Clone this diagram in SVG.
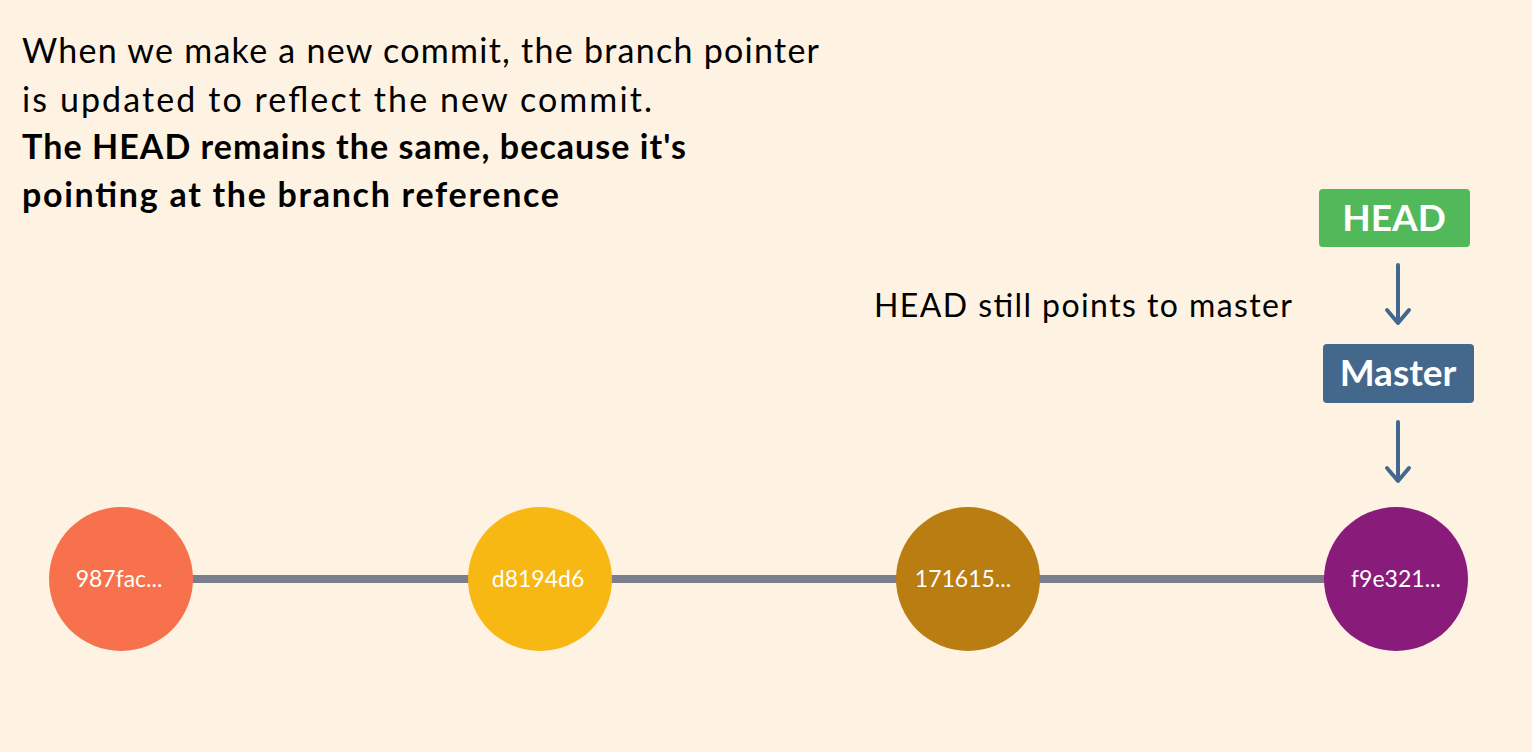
<svg xmlns="http://www.w3.org/2000/svg" width="1532" height="752" viewBox="0 0 1532 752">
<style>
.t{font-family:Lato,"Liberation Sans",sans-serif;fill:#000}
.lbl{font-family:Lato,"Liberation Sans",sans-serif;fill:#fff;font-size:23px;text-anchor:middle}
.box{font-family:Lato,"Liberation Sans",sans-serif;fill:#fff;font-size:37px;font-weight:bold;text-anchor:middle}
.arr{stroke:#43688F;stroke-width:4;fill:none;stroke-linecap:round;stroke-linejoin:round}
</style>
<rect width="1532" height="752" fill="#FEF3E2"/>
<g id="caption">
<text class="t" x="22" y="63" font-size="34" textLength="797">When we make a new commit, the branch pointer</text>
<text class="t" x="22" y="112" font-size="34" textLength="630">is updated to reflect the new commit.</text>
<text class="t" x="22" y="159" font-size="34" font-weight="bold" textLength="664">The HEAD remains the same, because it's</text>
<text class="t" x="22" y="207" font-size="34" font-weight="bold" textLength="537">pointing at the branch reference</text>
</g>
<g id="connectors">
<line x1="121" y1="579" x2="1396" y2="579" stroke="#7A7E8A" stroke-width="8"/>
<path class="arr" d="M1398 265 V323 M1387 310 L1398 323 L1409 310"/>
<path class="arr" d="M1398 422 V481 M1387 468 L1398 481 L1409 468"/>
</g>
<g id="c1"><circle cx="121" cy="579" r="72" fill="#F7724C"/><text class="lbl" x="119" y="587">987fac...</text></g>
<g id="c2"><circle cx="540" cy="579" r="72" fill="#F7B813"/><text class="lbl" x="538" y="587">d8194d6</text></g>
<g id="c3"><circle cx="968" cy="579" r="72" fill="#B97D12"/><text class="lbl" x="963" y="587">171615...</text></g>
<g id="c4"><circle cx="1396" cy="579" r="72" fill="#891B7B"/><text class="lbl" x="1396" y="587">f9e321...</text></g>
<g id="head"><rect x="1319" y="189" width="151" height="58" rx="4" fill="#52B95A"/><text class="box" x="1394" y="231">HEAD</text></g>
<g id="master"><rect x="1323" y="344" width="151" height="59" rx="4" fill="#43688C"/><text class="box" x="1398" y="386">Master</text></g>
<g id="note"><text class="t" x="874" y="317" font-size="32" textLength="418">HEAD still points to master</text></g>
</svg>
